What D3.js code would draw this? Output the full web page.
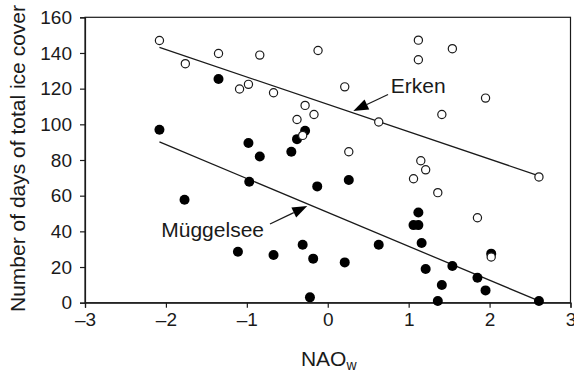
<!DOCTYPE html>
<html>
<head>
<meta charset="utf-8">
<script src="https://cdn.jsdelivr.net/npm/d3@7/dist/d3.min.js"></script>
<style>
  html, body { margin: 0; padding: 0; background: #fff; }
  svg { display: block; font-family: "Liberation Sans", Arial, Helvetica, sans-serif; }
</style>
</head>
<body>
<svg id="chart" width="574" height="373"></svg>
<script>
// ---- Data ----
const erkenX = [-2.08, -1.76, -1.35, -0.84, -1.09, -0.98, -0.67, -0.28, -0.38, -0.17, -0.12, -0.31,
                1.12, 1.12, 1.54, 0.21, 1.95, 1.41, 0.63, 0.26, 1.15, 1.21, 1.06, 1.36, 2.61, 1.85, 2.02];
const erkenY = [147, 134, 139.7, 138.8, 119.8, 122.4, 117.7, 110.6, 102.7, 105.5, 141.4, 93.8,
                147.2, 136.2, 142.4, 121, 114.7, 105.5, 101.3, 84.6, 79.6, 74.5, 69.5, 61.7, 70.5, 47.6, 25.6];

const muggelX = [-1.35, -2.08, -0.98, -0.84, -0.45, -0.38, -0.28, -0.97, -1.77, -0.13, -1.11, -0.67,
                 -0.31, -0.18, -0.22, 0.26, 0.63, 0.21, 1.12, 1.06, 1.12, 1.16, 1.21, 1.54, 1.85, 1.95,
                 2.02, 1.41, 1.36, 2.61];
const muggelY = [125.4, 97, 89.5, 82, 84.6, 91.7, 96.4, 67.8, 57.7, 65.2, 28.6, 26.7,
                 32.5, 24.7, 3, 68.8, 32.5, 22.6, 50.6, 43.5, 43.5, 33.5, 18.9, 20.6, 14, 6.9,
                 27.5, 9.9, 1, 1];

// regression lines (intercept, slope) as drawn in the reference
const erkenFit = [111.2, -15.35];
const muggelFit = [50.6, -19.0];

const xTicks = [-3, -2, -1, 0, 1, 2, 3];
const yTicks = [0, 20, 40, 60, 80, 100, 120, 140, 160];

const xLabel = "NAO";
const xLabelSub = "w";
const yLabel = "Number of days of total ice cover";
const erkenName = "Erken";
const muggelName = "Müggelsee";

// ---- Layout ----
const svg = d3.select("#chart");
const mLeft = 85, mRight = 570.5, mTop = 17.3, mBottom = 302.7;

const x = d3.scaleLinear().domain([-3, 3]).range([mLeft, mRight]);
const y = d3.scaleLinear().domain([0, 160]).range([mBottom, mTop]);

const ink = "#1a1a1a";

// frame
svg.append("rect")
  .attr("x", mLeft).attr("y", mTop)
  .attr("width", mRight - mLeft).attr("height", mBottom - mTop)
  .attr("fill", "none").attr("stroke", ink).attr("stroke-width", 1.2);

// axes
const xAxis = svg.append("g")
  .attr("transform", `translate(0,${mBottom})`)
  .call(d3.axisBottom(x).tickValues(xTicks).tickSize(5).tickPadding(5)
        .tickFormat(d => d < 0 ? "\u2013" + Math.abs(d) : String(d)));
const yAxis = svg.append("g")
  .attr("transform", `translate(${mLeft},0)`)
  .call(d3.axisLeft(y).tickValues(yTicks).tickSize(5).tickPadding(8));

[xAxis, yAxis].forEach(g => {
  g.select(".domain").attr("stroke", ink).attr("stroke-width", 1.2);
  g.selectAll(".tick line").attr("stroke", ink).attr("stroke-width", 1.2);
  g.selectAll(".tick text").attr("fill", ink)
    .style("font-size", "19px")
    .style("font-family", "'Liberation Sans', Arial, sans-serif");
});

// axis titles
const xt = svg.append("text")
  .attr("x", x(0) + 1).attr("y", 365.5)
  .attr("text-anchor", "middle")
  .attr("fill", ink)
  .style("font-size", "21px");
xt.append("tspan").text(xLabel);
xt.append("tspan").attr("dy", 4).style("font-size", "14px").text(xLabelSub);

svg.append("text")
  .attr("transform", `translate(25,${(5 + 312) / 2}) rotate(-90)`)
  .attr("text-anchor", "middle")
  .attr("fill", ink)
  .style("font-size", "21px")
  .text(yLabel);

// regression lines
function fitLine(fit, xs) {
  const ext = d3.extent(xs);
  return ext.map(v => [v, fit[0] + fit[1] * v]);
}
const line = d3.line().x(d => x(d[0])).y(d => y(d[1]));
svg.append("path").datum(fitLine(erkenFit, erkenX))
  .attr("d", line).attr("fill", "none").attr("stroke", ink).attr("stroke-width", 1.3);
svg.append("path").datum(fitLine(muggelFit, muggelX))
  .attr("d", line).attr("fill", "none").attr("stroke", ink).attr("stroke-width", 1.3);

// points: filled (Müggelsee) first, open (Erken) on top
const mData = muggelX.map((v, i) => [v, muggelY[i]]);
const eData = erkenX.map((v, i) => [v, erkenY[i]]);

svg.append("g").selectAll("circle").data(mData).join("circle")
  .attr("cx", d => x(d[0])).attr("cy", d => y(d[1]))
  .attr("r", 5).attr("fill", "#000");

svg.append("g").selectAll("circle").data(eData).join("circle")
  .attr("cx", d => x(d[0])).attr("cy", d => y(d[1]))
  .attr("r", 4.1).attr("fill", "#fff").attr("stroke", ink).attr("stroke-width", 1.2);

// annotations with arrows
function arrow(from, to) {
  const x1 = x(from[0]), y1 = y(from[1]), x2 = x(to[0]), y2 = y(to[1]);
  const ang = Math.atan2(y2 - y1, x2 - x1);
  const hl = 15, hw = 5.5;
  const bx = x2 - hl * Math.cos(ang), by = y2 - hl * Math.sin(ang);
  svg.append("line").attr("x1", x1).attr("y1", y1).attr("x2", bx).attr("y2", by)
    .attr("stroke", ink).attr("stroke-width", 1.3);
  const px = -Math.sin(ang), py = Math.cos(ang);
  svg.append("path")
    .attr("d", `M${x2},${y2}L${bx + px * hw},${by + py * hw}L${bx - px * hw},${by - py * hw}Z`)
    .attr("fill", "#000");
}

svg.append("text").attr("x", x(0.78)).attr("y", y(117.4))
  .attr("fill", ink).style("font-size", "21px").text(erkenName);
arrow([0.745, 116.7], [0.316, 107.5]);

svg.append("text").attr("x", x(-0.788)).attr("y", y(36.8))
  .attr("text-anchor", "end")
  .attr("fill", ink).style("font-size", "21px").text(muggelName);
arrow([-0.714, 44.1], [-0.253, 54.2]);
</script>
</body>
</html>
